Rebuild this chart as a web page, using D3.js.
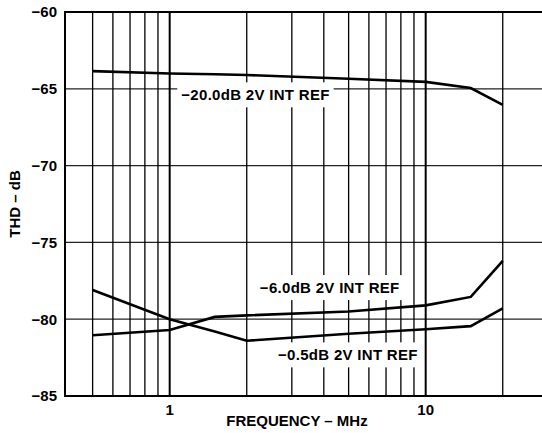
<!DOCTYPE html>
<html>
<head>
<meta charset="utf-8">
<script src="https://cdn.jsdelivr.net/npm/d3@7"></script>
<style>
	body { margin: 0; background: #fff; }
	svg { display: block; font-family: "Liberation Sans", Arial, sans-serif; font-weight: bold; }
</style>
</head>
<body>
<div id="chart"></div>
<script>
	// data
	var freq = [0.5, 1, 1.5, 2, 5, 10, 15, 20];
	var thdNeg20 = [-63.85, -64.0, -64.05, -64.1, -64.35, -64.55, -64.95, -66.05];
	var thdNeg6 = [-81.05, -80.7, -79.85, -79.75, -79.5, -79.1, -78.55, -76.2];
	var thdNeg05 = [-78.1, -80.0, -80.8, -81.4, -80.95, -80.65, -80.45, -79.3];

	var gridFreq = [0.5, 0.6, 0.7, 0.8, 0.9, 1, 2, 3, 4, 5, 6, 7, 8, 9, 10, 20];
	var majorFreq = [1, 10];
	var yTicks = [-60, -65, -70, -75, -80, -85];

	var labels = [
		{text: '\u221220.0dB 2V INT REF', f: 1.11, v: -65.75},
		{text: '\u22126.0dB 2V INT REF', f: 2.25, v: -78.3},
		{text: '\u22120.5dB 2V INT REF', f: 2.65, v: -82.68}
	];

	var width = 542, height = 433,
		decade = 256,
		plotLeft = 65, plotTop = 12, plotBottom = 396,
		xMin = 0.39, xMax = 30,
		fontSize = 15;

	var x = d3.scaleLog()
		.domain([xMin, xMax])
		.range([plotLeft, plotLeft + decade * Math.log10(xMax / xMin)]);

	var y = d3.scaleLinear()
		.domain([-85, -60])
		.range([plotBottom, plotTop]);

	var svg = d3.select('#chart').append('svg')
		.attr('width', width)
		.attr('height', height);

	// horizontal grid
	svg.selectAll('line.hgrid')
		.data(yTicks.slice(1, -1))
		.enter().append('line')
		.attr('x1', plotLeft).attr('x2', x(xMax))
		.attr('y1', y).attr('y2', y)
		.attr('stroke', '#222').attr('stroke-width', 1.3);

	// vertical grid
	svg.selectAll('line.vgrid')
		.data(gridFreq)
		.enter().append('line')
		.attr('x1', x).attr('x2', x)
		.attr('y1', plotTop).attr('y2', plotBottom)
		.attr('stroke', '#000')
		.attr('stroke-width', function (d) {
			return majorFreq.indexOf(d) >= 0 ? 2 : 1.3;
		});

	// frame
	svg.append('rect')
		.attr('x', plotLeft).attr('y', plotTop)
		.attr('width', x(xMax) - plotLeft).attr('height', plotBottom - plotTop)
		.attr('fill', 'none').attr('stroke', '#000').attr('stroke-width', 2);

	// y tick labels
	svg.selectAll('text.ytick')
		.data(yTicks)
		.enter().append('text')
		.attr('x', 57).attr('y', y)
		.attr('dy', '0.36em')
		.attr('text-anchor', 'end')
		.attr('font-size', fontSize)
		.text(function (d) { return '\u2212' + Math.abs(d); });

	// x tick labels
	svg.selectAll('text.xtick')
		.data(majorFreq)
		.enter().append('text')
		.attr('x', x).attr('y', 415)
		.attr('text-anchor', 'middle')
		.attr('font-size', fontSize)
		.text(function (d) { return d; });

	svg.append('text')
		.attr('x', 297).attr('y', 426)
		.attr('text-anchor', 'middle')
		.attr('font-size', fontSize)
		.text('FREQUENCY \u2013 MHz');

	svg.append('text')
		.attr('transform', 'translate(20,' + (plotTop + plotBottom) / 2 + ') rotate(-90)')
		.attr('text-anchor', 'middle')
		.attr('font-size', fontSize)
		.text('THD \u2013 dB');

	// curve labels with white backing
	labels.forEach(function (l) {
		var g = svg.append('g');
		var t = g.append('text')
			.attr('x', x(l.f)).attr('y', y(l.v))
			.attr('font-size', fontSize)
			.attr('letter-spacing', 0.3)
			.text(l.text);
		var b = t.node().getBBox();
		g.insert('rect', 'text')
			.attr('x', b.x - 4).attr('y', b.y - 4)
			.attr('width', b.width + 8).attr('height', b.height + 8)
			.attr('fill', '#fff');
	});

	// curves
	var line = d3.line()
		.x(function (d) { return x(d[0]); })
		.y(function (d) { return y(d[1]); });

	[thdNeg20, thdNeg6, thdNeg05].forEach(function (s) {
		svg.append('path')
			.datum(d3.zip(freq, s))
			.attr('d', line)
			.attr('fill', 'none')
			.attr('stroke', '#000')
			.attr('stroke-width', 2.6);
	});
</script>
</body>
</html>
